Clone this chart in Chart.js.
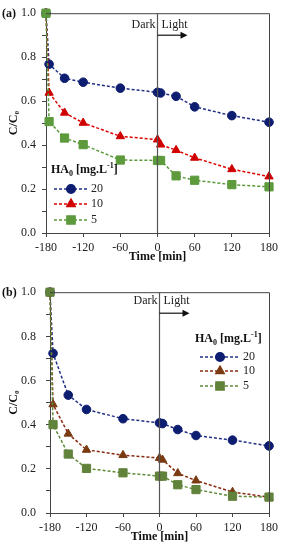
<!DOCTYPE html>
<html>
<head>
<meta charset="utf-8">
<script src="https://cdn.jsdelivr.net/npm/chart.js@4.4.1/dist/chart.umd.min.js"></script>
<style>
  html, body { margin: 0; padding: 0; background: #fff; }
  .panel { width: 287px; height: 275px; }
  canvas { display: block; }
</style>
</head>
<body>
<div class="panel"><canvas id="chartA" width="287" height="275"></canvas></div>
<div class="panel"><canvas id="chartB" width="287" height="275"></canvas></div>
<script>
// sampling times (min), same for both panels
const timesA = [-180, -175, -150, -120, -60, 0, 5, 30, 60, 120, 180];
const timesB = [-180, -175, -150, -120, -60, 0, 5, 30, 60, 120, 180];

// panel (a)
const a20 = [1.0, 0.768, 0.704, 0.686, 0.659, 0.640, 0.637, 0.622, 0.574, 0.534, 0.504];
const a10 = [1.0, 0.638, 0.547, 0.501, 0.440, 0.425, 0.402, 0.377, 0.342, 0.290, 0.257];
const a5 = [1.0, 0.507, 0.432, 0.402, 0.332, 0.330, 0.330, 0.260, 0.240, 0.220, 0.210];

// panel (b)
const b20 = [1.0, 0.723, 0.534, 0.469, 0.427, 0.408, 0.405, 0.378, 0.351, 0.330, 0.304];
const b10 = [1.0, 0.492, 0.359, 0.286, 0.262, 0.249, 0.241, 0.180, 0.147, 0.095, 0.072];
const b5 = [1.0, 0.400, 0.267, 0.202, 0.182, 0.167, 0.167, 0.128, 0.106, 0.076, 0.072];

const seriesLabels = ['20', '10', '5'];
const xTicks = [-180, -120, -60, 0, 60, 120, 180];

const SERIF = "'Liberation Serif', 'Times New Roman', serif";
const AXIS = '#444';

function makeDataset(label, times, values, color, marker, style, radius, order) {
  return {
    label,
    data: times.map((t, i) => ({ x: t, y: values[i] })),
    borderColor: color,
    backgroundColor: marker,
    pointBackgroundColor: marker,
    pointBorderColor: marker,
    pointBorderWidth: 1,
    pointStyle: style,
    pointRadius: radius,
    borderWidth: 1.5,
    borderDash: [3, 2],
    tension: 0,
    clip: false,
    order
  };
}

const framePlugin = {
  id: 'frame',
  afterDraw(chart, args, opts) {
    const { ctx, chartArea: a, scales } = chart;
    const x0 = scales.x.getPixelForValue(0);
    ctx.save();
    // top and right border of the box
    ctx.strokeStyle = AXIS;
    ctx.lineWidth = 1;
    ctx.beginPath();
    ctx.moveTo(a.left, a.top + 0.5);
    ctx.lineTo(a.right + 0.5, a.top + 0.5);
    ctx.lineTo(a.right + 0.5, a.bottom);
    ctx.stroke();

    // dark / light divider
    ctx.strokeStyle = '#555';
    ctx.lineWidth = 1.2;
    ctx.beginPath();
    ctx.moveTo(x0, a.top);
    ctx.lineTo(x0, a.bottom);
    ctx.stroke();

    ctx.fillStyle = '#222';
    ctx.font = `12px ${SERIF}`;
    ctx.textBaseline = 'middle';
    ctx.textAlign = 'right';
    ctx.fillText('Dark', x0 - 2, a.top + opts.textDy);
    ctx.textAlign = 'left';
    ctx.fillText('Light', x0 + 4, a.top + opts.textDy);

    // arrow
    const ay = a.top + opts.arrowDy;
    ctx.strokeStyle = '#111';
    ctx.lineWidth = 1.2;
    ctx.beginPath();
    ctx.moveTo(x0, ay);
    ctx.lineTo(x0 + 24, ay);
    ctx.stroke();
    ctx.fillStyle = '#111';
    ctx.beginPath();
    ctx.moveTo(x0 + 30, ay);
    ctx.lineTo(x0 + 23, ay - 3.5);
    ctx.lineTo(x0 + 23, ay + 3.5);
    ctx.closePath();
    ctx.fill();

    // panel tag
    ctx.font = `bold 12px ${SERIF}`;
    ctx.textAlign = 'left';
    ctx.fillStyle = '#111';
    ctx.fillText(opts.tag, 2, a.top + 1);

    // legend
    const lg = opts.legend;
    ctx.font = `bold 12px ${SERIF}`;
    ctx.fillText('HA', lg.x, lg.y);
    let w = ctx.measureText('HA').width;
    ctx.font = `bold 8px ${SERIF}`;
    ctx.fillText('0', lg.x + w, lg.y + 4);
    w += ctx.measureText('0').width + 3;
    ctx.font = `bold 12px ${SERIF}`;
    ctx.fillText('[mg.L', lg.x + w, lg.y);
    w += ctx.measureText('[mg.L').width;
    ctx.font = `bold 8px ${SERIF}`;
    ctx.fillText('-1', lg.x + w, lg.y - 4);
    w += ctx.measureText('-1').width;
    ctx.font = `bold 12px ${SERIF}`;
    ctx.fillText(']', lg.x + w, lg.y);

    const order = [0, 1, 2];
    order.forEach((i, row) => {
      const ds = chart.data.datasets[i];
      const y = lg.rowY[row];
      ctx.strokeStyle = ds.borderColor;
      ctx.lineWidth = 1.5;
      ctx.setLineDash([3, 2]);
      ctx.beginPath();
      ctx.moveTo(lg.lineX0, y);
      ctx.lineTo(lg.lineX1, y);
      ctx.stroke();
      ctx.setLineDash([]);
      ctx.fillStyle = ds.pointBackgroundColor;
      ctx.strokeStyle = ds.pointBorderColor;
      Chart.helpers.drawPoint(ctx, {
        pointStyle: ds.pointStyle,
        radius: ds.pointRadius,
        borderWidth: 1,
        rotation: 0
      }, (lg.lineX0 + lg.lineX1) / 2, y);
      ctx.fillStyle = '#222';
      ctx.font = `12px ${SERIF}`;
      ctx.textAlign = 'left';
      ctx.fillText(ds.label, lg.textX, y);
    });
    ctx.restore();
  }
};

function buildPanel(canvasId, times, s20, s10, s5, look) {
  const datasets = [
    makeDataset(seriesLabels[0], times, s20, '#1f2f85', '#0d1d70', 'circle', 4.3, 2),
    makeDataset(seriesLabels[1], times, s10, look.c10, look.m10, 'triangle', 4.8, 1),
    makeDataset(seriesLabels[2], times, s5, look.c5, look.m5, 'rect', 5.8, 0)
  ];

  return new Chart(document.getElementById(canvasId), {
    type: 'line',
    data: { datasets },
    options: {
      responsive: false,
      animation: false,
      layout: { padding: { left: 0, right: 18, top: look.top, bottom: 0 } },
      plugins: {
        legend: { display: false },
        tooltip: { enabled: false },
        frame: look.frame
      },
      scales: {
        x: {
          type: 'linear',
          min: -180,
          max: 180,
          afterBuildTicks(scale) {
            scale.ticks = xTicks.map((v) => ({ value: v }));
          },
          afterFit(scale) { scale.height = look.xHeight; },
          grid: { drawOnChartArea: false, drawTicks: true, tickLength: 4, color: AXIS },
          border: { color: AXIS, width: 1 },
          ticks: {
            color: '#222',
            padding: 4,
            maxRotation: 0,
            font: { family: SERIF, size: 12 }
          },
          title: {
            display: true,
            text: 'Time [min]',
            color: '#111',
            padding: { top: 0, bottom: look.titlePad },
            font: { family: SERIF, size: 12, weight: 'bold' }
          }
        },
        y: {
          min: 0,
          max: 1,
          afterFit(scale) { scale.width = look.yWidth; },
          grid: { drawOnChartArea: false, drawTicks: true, tickLength: 4, color: AXIS },
          border: { color: AXIS, width: 1 },
          ticks: {
            stepSize: 0.1,
            color: '#222',
            padding: look.yPad,
            autoSkip: false,
            font: { family: SERIF, size: 12 },
            callback(v) {
              return Math.round(v * 10) % 2 === 0 ? v.toFixed(1) : '';
            }
          },
          title: {
            display: true,
            text: 'C/C\u2080',
            color: '#111',
            padding: { top: 7, bottom: 0 },
            font: { family: SERIF, size: 12, weight: 'bold' }
          }
        }
      }
    },
    plugins: [framePlugin]
  });
}

buildPanel('chartA', timesA, a20, a10, a5, {
  c10: '#e00000', m10: '#d00000', c5: '#5a9a3a', m5: '#5c9a3c',
  top: 10, xHeight: 42, yWidth: 46, yPad: 6, titlePad: 11,
  frame: {
    tag: '(a)', textDy: 12, arrowDy: 22,
    legend: { x: 51, y: 170, lineX0: 54, lineX1: 88, textX: 91, rowY: [189, 204, 220] }
  }
});

buildPanel('chartB', timesB, b20, b10, b5, {
  c10: '#8a2a10', m10: '#7a3a12', c5: '#5f8a38', m5: '#61823a',
  top: 14, xHeight: 37, yWidth: 50, yPad: 10, titlePad: 6,
  frame: {
    tag: '(b)', textDy: 9, arrowDy: 21,
    legend: { x: 195, y: 64, lineX0: 200, lineX1: 240, textX: 243, rowY: [82, 96, 111] }
  }
});
</script>
</body>
</html>
